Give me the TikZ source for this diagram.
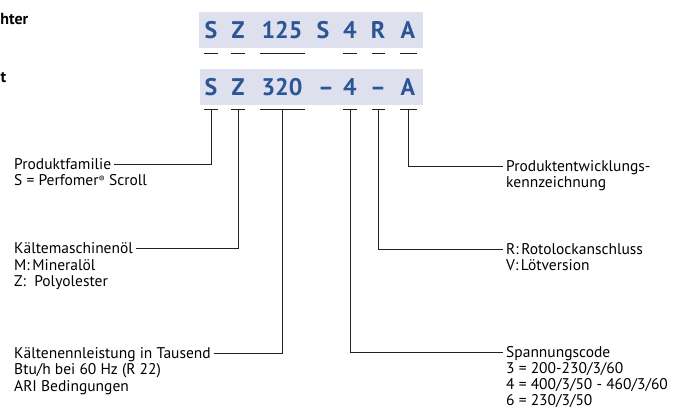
\documentclass[tikz,border=0pt]{standalone}
\usepackage{fontspec}
\setmainfont{PT Sans}
\definecolor{codeblue}{HTML}{2B5597}
\definecolor{codebg}{HTML}{DFE0EE}
\definecolor{lineclr}{HTML}{222222}
\begin{document}
\begin{tikzpicture}[x=1pt,y=-1pt,
  lbl/.style={inner xsep=3pt, inner ysep=0pt, text height=10.8pt, text depth=0pt,
    font=\fontsize{15.5}{17}\selectfont, anchor=west},
  codebox/.style={fill=codebg, draw=none},
  codech/.style={text=codeblue, font=\fontsize{24}{24}\bfseries\selectfont,
    inner sep=0pt, text height=16.8pt, text depth=0pt},
  bar/.style={draw=lineclr, line width=0.9pt},
  conn/.style={draw=lineclr, line width=0.9pt},
  cut/.style={font=\fontsize{16}{17}\bfseries\selectfont, inner sep=0pt, text height=11pt, text depth=0pt}]
\useasboundingbox (0,0) rectangle (674,410);
\clip (0,0) rectangle (674,410);

% cut-off headings at the left edge
\node[cut, anchor=east] (h1) at (28.5,19) {hter};
\node[cut, anchor=east] (h2) at (6.5,77) {t};

% code boxes
\fill[codebox] (199,12) rectangle (423,48);
\fill[codebox] (200,69) rectangle (423,105);

% first code
\node[codech] (a1) at (211,30) {S};
\node[codech] (a2) at (238,30) {Z};
\node[codech] (a3) at (282,30) {125};
\node[codech] (a4) at (323,30) {S};
\node[codech] (a5) at (350,30) {4};
\node[codech] (a6) at (378,30) {R};
\node[codech] (a7) at (408,30) {A};

% second code
\node[codech] (b1) at (211,87) {S};
\node[codech] (b2) at (238,87) {Z};
\node[codech] (b3) at (282,87) {320};
\node[codech] (b4) at (326,87) {–};
\node[codech] (b5) at (350,87) {4};
\node[codech] (b6) at (378,87) {–};
\node[codech] (b7) at (408,87) {A};

% bars under codes
\foreach \l/\r in {204/218, 231/245, 260/305, 343/357, 372/385, 400/417} {
  \draw[bar] (\l,53) -- (\r,53);
  \draw[bar] (\l,109) -- (\r,109);
}
\coordinate (pS) at (211,109);
\coordinate (pZ) at (238,109);
\coordinate (pN) at (282,109);
\coordinate (pV) at (350,109);
\coordinate (pR) at (378,109);
\coordinate (pA) at (408,109);

% left labels
\node[lbl] (fam) at (11,164) {Produktfamilie};
\node[lbl] (fam2) at (11,180.5) {S = Perfomer{\fontsize{9}{9}\selectfont\raisebox{3.5pt}{®}} Scroll};

\node[lbl] (oil) at (11,248.5) {Kältemaschinenöl};
\node[lbl] (oil2) at (11,265) {M:\,Mineralöl};
\node[lbl] (oil3) at (11,281.5) {Z:\ \ Polyolester};

\node[lbl] (cap) at (11,353) {Kältenennleistung in Tausend};
\node[lbl] (cap2) at (11,369.5) {Btu/h bei 60 Hz (R 22)};
\node[lbl] (cap3) at (11,386) {ARI Bedingungen};

% right labels
\node[lbl] (dev) at (503,166) {Produktentwicklungs-};
\node[lbl] (dev2) at (503,182.5) {kennzeichnung};

\node[lbl] (con) at (503,249) {R:\,Rotolockanschluss};
\node[lbl] (con2) at (503,265.5) {V:\,Lötversion};

\node[lbl] (vol) at (503,352.5) {Spannungscode};
\node[lbl] (vol2) at (503,368.5) {3 = 200-230/3/60};
\node[lbl] (vol3) at (503,384.5) {4 = 400/3/50 - 460/3/60};
\node[lbl] (vol4) at (503,400.5) {6 = 230/3/50};

% connectors
\draw[conn] (pS) |- (fam.east);
\draw[conn] (pZ) |- (oil.east);
\draw[conn] (pN) |- (cap.east);
\draw[conn] (pA) |- (dev.west);
\draw[conn] (pR) |- (con.west);
\draw[conn] (pV) |- (vol.west);
\end{tikzpicture}
\end{document}
